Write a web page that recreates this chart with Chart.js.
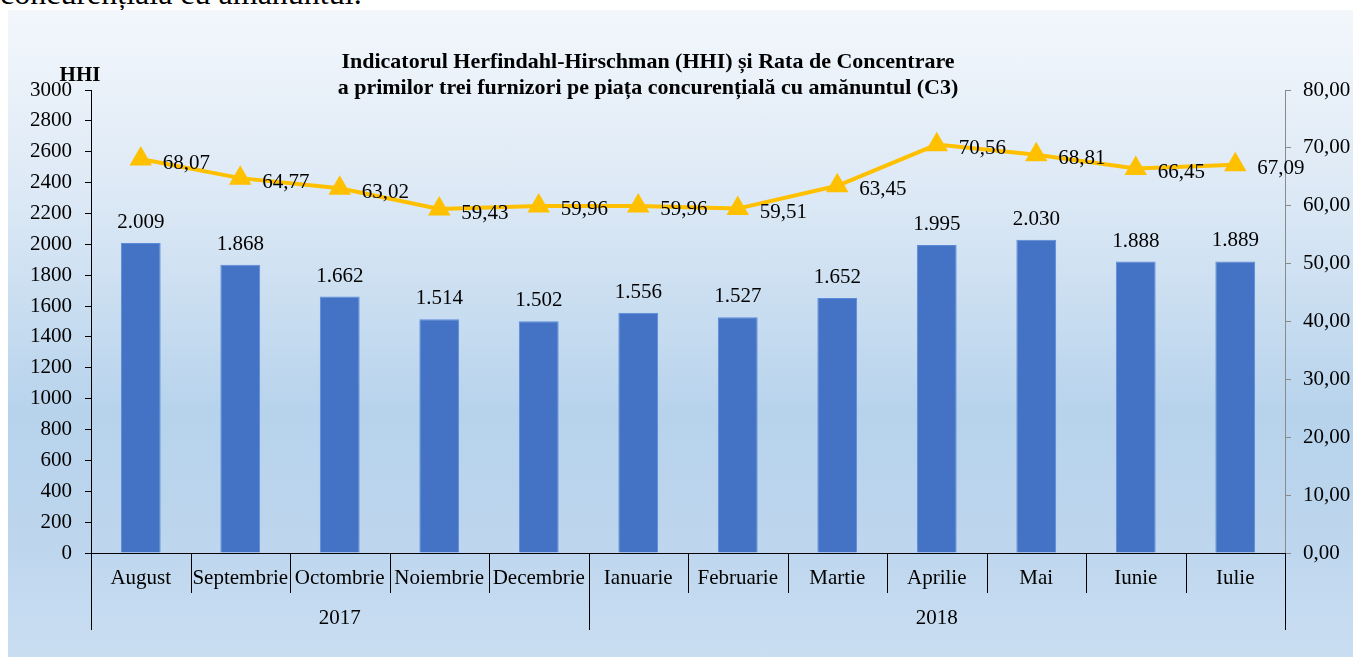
<!DOCTYPE html>
<html>
<head>
<meta charset="utf-8">
<script src="https://cdn.jsdelivr.net/npm/chart.js@4.4.0/dist/chart.umd.min.js"></script>
<style>
  html, body { margin: 0; padding: 0; background: #fff; overflow: hidden; }
  body { width: 1353px; height: 657px; position: relative; }
  #doctext {
    position: absolute; left: 0; top: -23px;
    font: 32px "Liberation Serif", serif; line-height: 32px; color: #000; white-space: nowrap;
  }
  #box {
    position: absolute; left: 8px; top: 10px; width: 1345px; height: 647px;
    background: linear-gradient(to bottom, #f3f7fc 0%, #dbe8f5 30%, #b7d3ec 62%, #bcd5ed 80%, #cadef2 100%);
  }
</style>
</head>
<body>
<div id="doctext">concurențiala cu amănuntul.</div>
<div id="box"><canvas id="hhiChart" width="1345" height="647"></canvas></div>
<script>
// data
var months = ["August", "Septembrie", "Octombrie", "Noiembrie", "Decembrie", "Ianuarie",
  "Februarie", "Martie", "Aprilie", "Mai", "Iunie", "Iulie"];
var years = ["2017", "2018"];
var yearSpans = [5, 7]; // months per year
var hhiValues = [2009, 1868, 1662, 1514, 1502, 1556, 1527, 1652, 1995, 2030, 1888, 1889];
var c3Values = [68.07, 64.77, 63.02, 59.43, 59.96, 59.96, 59.51, 63.45, 70.56, 68.81, 66.45, 67.09];
var titleLines = ["Indicatorul Herfindahl-Hirschman (HHI) și Rata de Concentrare",
  "a primilor trei furnizori pe piața concurențială cu amănuntul (C3)"];

var serif = "'Liberation Serif', 'Times New Roman', serif";

function fmtThousands(v) {
  return String(v).replace(/\B(?=(\d{3})+(?!\d))/g, ".");
}
function fmtComma(v) {
  return v.toFixed(2).replace(".", ",");
}

// labels, title, and the two-level category axis
var decorPlugin = {
  id: "decor",
  afterDatasetsDraw: function (chart) {
    var ctx = chart.ctx;
    var area = chart.chartArea;
    var x = chart.scales.x;
    ctx.save();
    ctx.fillStyle = "#000";

    // bar labels
    ctx.font = "21px " + serif;
    ctx.textAlign = "center";
    ctx.textBaseline = "bottom";
    chart.getDatasetMeta(1).data.forEach(function (bar, i) {
      ctx.fillText(fmtThousands(hhiValues[i]), bar.x, bar.y - 10);
    });

    // line labels
    ctx.textAlign = "left";
    ctx.textBaseline = "middle";
    chart.getDatasetMeta(0).data.forEach(function (pt, i) {
      ctx.fillText(fmtComma(c3Values[i]), pt.x + 22, pt.y + 4);
    });

    // title
    ctx.font = "bold 22px " + serif;
    ctx.textAlign = "center";
    ctx.textBaseline = "middle";
    ctx.fillText(titleLines[0], 640, 52);
    ctx.fillText(titleLines[1], 640, 78);

    // axis name
    ctx.font = "bold 21px " + serif;
    ctx.fillText("HHI", area.left - 11, area.top - 14);

    // category separators
    var half = (x.getPixelForValue(1) - x.getPixelForValue(0)) / 2;
    ctx.strokeStyle = "#000";
    ctx.lineWidth = 1;
    var bottom = area.bottom;
    var start = 0;
    var edges = [0];
    yearSpans.forEach(function (n) { start += n; edges.push(start); });
    for (var i = 0; i <= months.length; i++) {
      var px = Math.round(x.getPixelForValue(i) - half) + 0.5;
      var deep = edges.indexOf(i) >= 0;
      ctx.beginPath();
      ctx.moveTo(px, bottom);
      ctx.lineTo(px, bottom + (deep ? 77 : 40));
      ctx.stroke();
    }

    // years
    ctx.font = "21px " + serif;
    ctx.textBaseline = "middle";
    for (var j = 0; j < years.length; j++) {
      var a = x.getPixelForValue(edges[j]) - half;
      var b = x.getPixelForValue(edges[j + 1]) - half;
      ctx.fillText(years[j], (a + b) / 2, bottom + 65);
    }
    ctx.restore();
  }
};

var ctx = document.getElementById("hhiChart").getContext("2d");
var hhiChart = new Chart(ctx, {
  data: {
    labels: months,
    datasets: [
      {
        type: "line",
        label: "C3",
        data: c3Values,
        yAxisID: "y1",
        borderColor: "#FFC000",
        backgroundColor: "#FFC000",
        borderWidth: 4,
        pointStyle: "triangle",
        pointRadius: 9,
        pointHoverRadius: 9,
        tension: 0,
        order: 0,
      },
      {
        type: "bar",
        label: "HHI",
        data: hhiValues,
        yAxisID: "y",
        backgroundColor: "#4472C4",
        borderColor: "#5B8BD8",
        borderWidth: 1,
        barPercentage: 0.4,
        categoryPercentage: 1,
        order: 1,
      },
    ],
  },
  options: {
    responsive: false,
    animation: false,
    layout: { padding: { top: 80, left: 0, right: 0, bottom: 0 } },
    plugins: {
      legend: { display: false },
      title: { display: false },
      tooltip: { enabled: false },
    },
    scales: {
      x: {
        offset: true,
        grid: { display: false, drawTicks: false, offset: true },
        border: { display: true, color: "#000", width: 1 },
        ticks: { color: "#000", font: { family: serif, size: 21 }, padding: 13, maxRotation: 0, autoSkip: false },
        afterFit: function (s) { s.height = 104; },
      },
      y: {
        position: "left",
        min: 0,
        max: 3000,
        ticks: {
          stepSize: 200, color: "#000", font: { family: serif, size: 21 }, padding: 13,
          callback: function (v) { return String(v); },
        },
        grid: { drawOnChartArea: false, drawTicks: true, tickLength: 6, color: "#000" },
        border: { display: true, color: "#000", width: 1 },
        afterFit: function (s) { s.width = 83; },
      },
      y1: {
        position: "right",
        min: 0,
        max: 80,
        ticks: {
          stepSize: 10, color: "#000", font: { family: serif, size: 21 }, padding: 12,
          callback: function (v) { return fmtComma(v); },
        },
        grid: { drawOnChartArea: false, drawTicks: true, tickLength: 6, color: "#8a8a8a" },
        border: { display: true, color: "#8a8a8a", width: 1 },
        afterFit: function (s) { s.width = 68; },
      },
    },
  },
  plugins: [decorPlugin],
});
</script>
</body>
</html>
